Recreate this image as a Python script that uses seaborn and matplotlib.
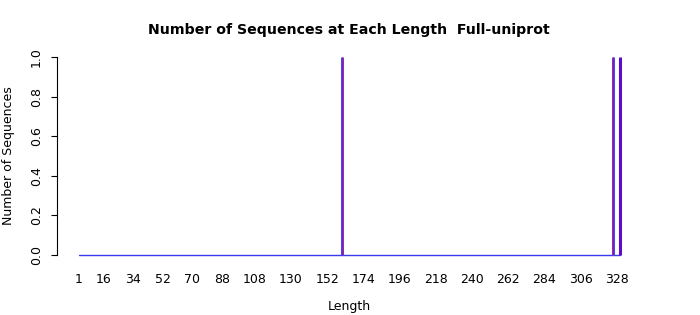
import matplotlib
matplotlib.use("Agg")
import matplotlib.pyplot as plt
import seaborn as sns
import pandas as pd
import numpy as np

# ---- data ----
max_length = 330
blue_lengths = [161, 326]
blue_counts = [1, 1]
red_lengths = [161, 326]
red_counts = [1, 1]
purple_lengths = [330]
purple_counts = [1]
tick_labels = [1, 16, 34, 52, 70, 88, 108, 130, 152, 174, 196, 218, 240, 262, 284, 306, 328]
y_ticks = [0.0, 0.2, 0.4, 0.6, 0.8, 1.0]

sns.set_style("white")
plt.rcParams['font.family'] = ['DejaVu Sans']
plt.rcParams.update({"text.color": "black", "axes.labelcolor": "black",
                     "xtick.color": "black", "ytick.color": "black"})

fig = plt.figure(figsize=(7, 3.15), dpi=100)
ax = fig.add_axes([0.0814, 0.165, 0.9166 - 0.0814, 0.8444 - 0.165])

lengths = np.arange(1, max_length + 1)
base = pd.DataFrame({"Length": lengths, "Count": np.zeros(len(lengths))})
sns.lineplot(data=base, x="Length", y="Count", color="#3b3bf0", lw=1.0, ax=ax)

ax.vlines(blue_lengths, 0, blue_counts, color="#4848f5", lw=2.2)
ax.vlines(red_lengths, 0, red_counts, color="#b0107a", lw=0.8)
ax.vlines(purple_lengths, 0, purple_counts, color="#5a0cc8", lw=2.2)

pad_x = 0.04 * (max_length - 1)
ax.set_xlim(1 - pad_x, max_length + pad_x)
ax.set_ylim(-0.04, 1.04)

ax.set_xticks(tick_labels)
ax.set_xticklabels([str(t) for t in tick_labels], fontsize=9)
ax.set_yticks(y_ticks)
ax.set_yticklabels([f"{t:.1f}" for t in y_ticks], fontsize=9, rotation=90, va="center")

ax.tick_params(axis="x", length=0, pad=7)
ax.tick_params(axis="y", length=4, width=0.8, color="black", pad=6, left=True)

for s in ["top", "right", "bottom"]:
    ax.spines[s].set_visible(False)
ax.spines["left"].set_bounds(0, 1)
ax.spines["left"].set_color("black")
ax.spines["left"].set_linewidth(0.8)

ax.set_xlabel("Length", fontsize=9, labelpad=10)
ax.set_ylabel("Number of Sequences", fontsize=9, labelpad=11)
ax.set_title("Number of Sequences at Each Length  Full-uniprot", fontsize=10.2, fontweight="bold", pad=11)

fig.savefig("out.png", dpi=100)
